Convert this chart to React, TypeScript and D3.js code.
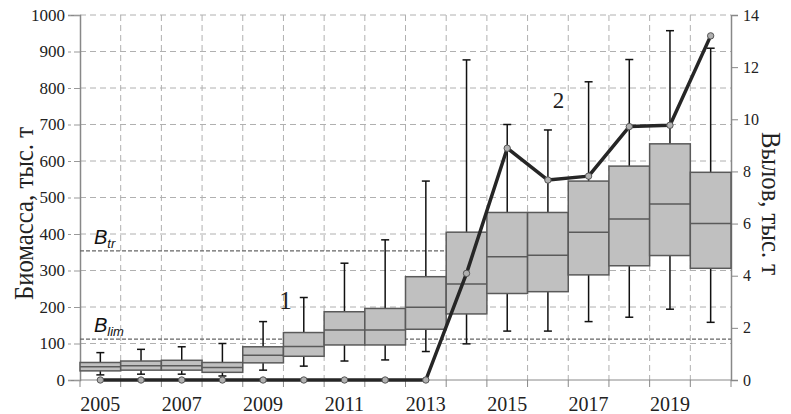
import React, { useRef, useEffect } from "react";
import * as d3 from "d3";

// years on x axis
const years = d3.range(2005, 2021).map(String);
const yearLabels = ["2005", "2007", "2009", "2011", "2013", "2015", "2017", "2019"];
// biomass boxes (thousand t): whisker low, q1, median, q3, whisker high
const whiskLow = [14, 16, 16, 11, 27, 38, 52, 55, 78, 99, 134, 134, 160, 172, 194, 158];
const q1 = [25, 27, 27, 21, 47, 65, 96, 96, 139, 181, 237, 242, 288, 313, 341, 306];
const median = [36, 39, 39, 34, 68, 92, 137, 137, 199, 263, 338, 342, 405, 441, 482, 429];
const q3 = [48, 52, 54, 48, 91, 130, 187, 196, 283, 405, 459, 459, 545, 586, 647, 569];
const whiskHigh = [75, 84, 91, 100, 160, 226, 320, 384, 545, 877, 700, 685, 817, 878, 957, 909];
// catch (thousand t)
const catchVals = [0, 0, 0, 0, 0, 0, 0, 0, 0, 4.09, 8.89, 7.67, 7.82, 9.72, 9.77, 13.2];
const leftTicks = d3.range(0, 1001, 100);
const rightTicks = d3.range(0, 15, 2);
const bTr = 354;
const bLim = 112;

const SERIF = "'Liberation Serif', 'Times New Roman', serif";

const App = () => {
  const svgRef = useRef<SVGSVGElement>(null);

  useEffect(() => {
    const margin = { top: 15, right: 60, bottom: 34, left: 80 };
    const W = 791, H = 414;
    const x0 = margin.left, x1 = W - margin.right;
    const yTop = margin.top, yBot = H - margin.bottom;
    const svg = d3.select(svgRef.current);
    svg.selectAll("*").remove();

    const x = d3.scaleBand().domain(years).range([x0, x1]).padding(0);
    const y = d3.scaleLinear().domain([0, 1000]).range([yBot, yTop]);
    const yR = d3.scaleLinear().domain([0, 14]).range([yBot, yTop]);
    const bw = x.bandwidth();
    const cx = (i: number) => (x(years[i]) as number) + bw / 2;

    // grid
    const grid = svg.append("g").attr("stroke", "#b0b0b0").attr("stroke-width", 1).attr("stroke-dasharray", "6,4");
    leftTicks.slice(1).forEach((t) => {
      grid.append("line").attr("x1", x0).attr("x2", x1).attr("y1", y(t)).attr("y2", y(t));
    });
    years.slice(1).forEach((yr) => {
      const xx = x(yr) as number;
      grid.append("line").attr("x1", xx).attr("x2", xx).attr("y1", yTop).attr("y2", yBot);
    });

    // bottom ticks at band edges
    years.concat(["end"]).forEach((yr, i) => {
      const xx = x0 + i * bw;
      svg.append("line").attr("x1", xx).attr("x2", xx).attr("y1", yBot).attr("y2", yBot + 7)
        .attr("stroke", "#888").attr("stroke-width", 1);
    });

    // left axis
    const gl = svg.append("g").attr("transform", `translate(${x0},0)`)
      .call(d3.axisLeft(y).tickValues(leftTicks).tickSize(12).tickFormat(d3.format("d")));
    gl.select(".domain").attr("stroke", "#888").attr("stroke-width", 1.5);
    gl.selectAll(".tick line").attr("stroke", "#999").attr("stroke-dasharray", "6,3");
    gl.selectAll(".tick text").attr("font-family", SERIF).attr("font-size", 17)
      .attr("fill", "#222").attr("x", -15);

    // right axis
    const gr = svg.append("g").attr("transform", `translate(${x1},0)`)
      .call(d3.axisRight(yR).tickValues(rightTicks).tickSize(7).tickFormat(d3.format("d")));
    gr.select(".domain").attr("stroke", "#888").attr("stroke-width", 1.5);
    gr.selectAll(".tick line").attr("stroke", "#888");
    gr.selectAll(".tick text").attr("font-family", SERIF).attr("font-size", 16)
      .attr("fill", "#222").attr("x", 12);

    // bottom axis line
    svg.append("line").attr("x1", x0).attr("x2", x1).attr("y1", yBot).attr("y2", yBot)
      .attr("stroke", "#888").attr("stroke-width", 1);

    // x labels
    svg.append("g").selectAll("text").data(yearLabels).join("text")
      .attr("x", (d) => (x(d) as number) + bw / 2)
      .attr("y", 411)
      .attr("text-anchor", "middle")
      .attr("font-family", SERIF)
      .attr("font-size", 20)
      .attr("fill", "#222")
      .text((d) => d);

    // threshold lines
    [bTr, bLim].forEach((v) => {
      svg.append("line").attr("x1", x0).attr("x2", x1).attr("y1", y(v)).attr("y2", y(v))
        .attr("stroke", "#666").attr("stroke-width", 1.2).attr("stroke-dasharray", "4,2");
    });

    // whiskers
    const wg = svg.append("g").attr("stroke", "#111").attr("stroke-width", 1.5);
    years.forEach((yr, i) => {
      const c = cx(i);
      wg.append("line").attr("x1", c).attr("x2", c).attr("y1", y(whiskLow[i])).attr("y2", y(whiskHigh[i]));
      wg.append("line").attr("x1", c - 4).attr("x2", c + 4).attr("y1", y(whiskLow[i])).attr("y2", y(whiskLow[i]));
      wg.append("line").attr("x1", c - 4).attr("x2", c + 4).attr("y1", y(whiskHigh[i])).attr("y2", y(whiskHigh[i]));
    });

    // boxes
    const bg = svg.append("g");
    years.forEach((yr, i) => {
      const xx = x(yr) as number;
      bg.append("rect").attr("x", xx).attr("y", y(q3[i])).attr("width", bw)
        .attr("height", y(q1[i]) - y(q3[i]))
        .attr("fill", "#c0c0c0").attr("stroke", "#5a5a5a").attr("stroke-width", 1.5);
      bg.append("line").attr("x1", xx).attr("x2", xx + bw).attr("y1", y(median[i])).attr("y2", y(median[i]))
        .attr("stroke", "#5a5a5a").attr("stroke-width", 1.5);
    });

    // catch line
    const line = d3.line<number>().x((d, i) => cx(i)).y((d) => yR(d));
    svg.append("path").datum(catchVals).attr("fill", "none").attr("stroke", "#262626")
      .attr("stroke-width", 3.5).attr("stroke-linejoin", "round").attr("d", line);
    svg.append("g").selectAll("circle").data(catchVals).join("circle")
      .attr("cx", (d, i) => cx(i)).attr("cy", (d) => yR(d)).attr("r", 3.2)
      .attr("fill", "#b0b0b0").attr("stroke", "#555").attr("stroke-width", 1);

    // B labels
    const bl = (txt: string, sub: string, yy: number) => {
      const t = svg.append("text").attr("x", 94).attr("y", yy)
        .attr("font-family", "'Liberation Sans', Arial, sans-serif").attr("font-style", "italic")
        .attr("font-size", 20).attr("fill", "#111");
      t.append("tspan").text(txt);
      t.append("tspan").attr("font-size", 13).attr("dy", 4).text(sub);
    };
    bl("B", "tr", 244);
    bl("B", "lim", 332);

    // series numbers
    svg.append("text").attr("x", 285.5).attr("y", 309).attr("text-anchor", "middle")
      .attr("font-family", SERIF).attr("font-size", 25).attr("fill", "#222").text("1");
    svg.append("text").attr("x", 558.5).attr("y", 108).attr("text-anchor", "middle")
      .attr("font-family", SERIF).attr("font-size", 23).attr("fill", "#222").text("2");

    // axis titles (condensed serif, as in the original): squeeze to the measured length
    const title = (txt: string, tx: number, ty: number, rot: number, len: number) => {
      const t = svg.append("text").attr("text-anchor", "middle")
        .attr("font-family", SERIF).attr("font-size", 28).attr("fill", "#222").text(txt);
      const w = (t.node() as SVGTextElement).getComputedTextLength() || len;
      t.attr("transform", `translate(${tx},${ty}) rotate(${rot}) scale(${len / w},1)`);
    };
    title("Биомасса, тыс. т", 33, 213.5, -90, 173);
    title("Вылов, тыс. т", 762, 203.5, 90, 143);
  }, []);

  return (
    <svg ref={svgRef} width={791} height={414}
      style={{ position: "absolute", left: 0, top: 0, background: "#fff" }} />
  );
};

export default App;
